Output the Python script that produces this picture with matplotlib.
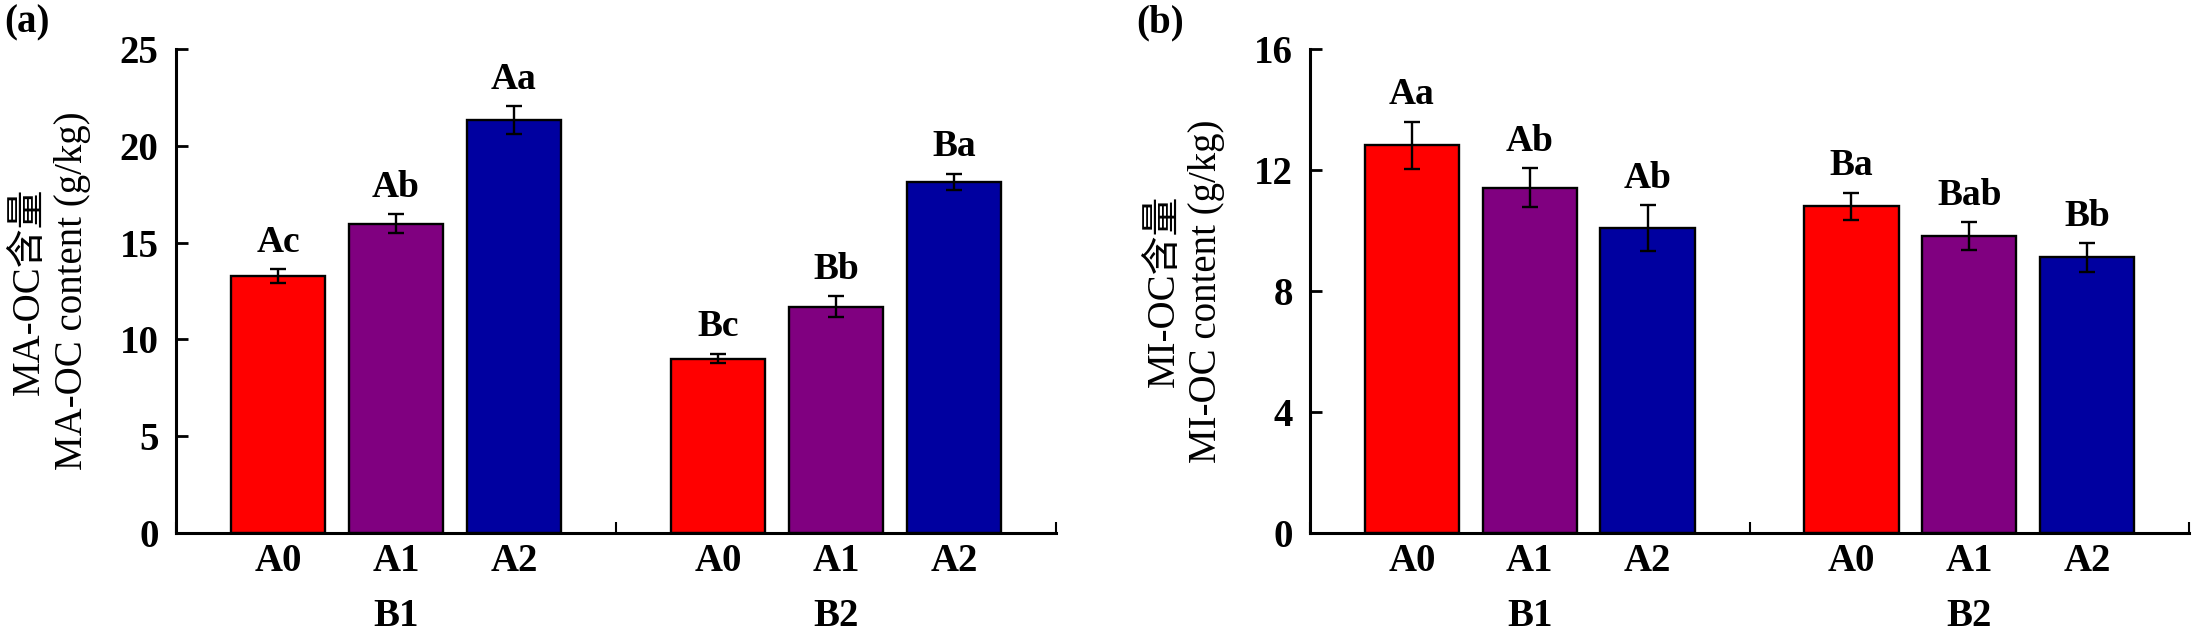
import numpy as np
import matplotlib.pyplot as plt
from matplotlib.ticker import FixedLocator

plt.rcParams['font.family'] = ['Liberation Serif', 'Noto Sans CJK SC']
plt.rcParams['mathtext.default'] = 'regular'

groups = ['B1', 'B2']
treatments = ['A0', 'A1', 'A2']
colors = ['#FF0000', '#800080', '#0000A0']

# MA-OC (panel a)
ma_mean = [[13.26, 15.98, 21.33], [9.01, 11.68, 18.14]]
ma_err = [[0.36, 0.50, 0.73], [0.25, 0.54, 0.42]]
ma_letters = [['Ac', 'Ab', 'Aa'], ['Bc', 'Bb', 'Ba']]

# MI-OC (panel b)
mi_mean = [[12.82, 11.42, 10.07], [10.80, 9.82, 9.11]]
mi_err = [[0.78, 0.63, 0.76], [0.45, 0.45, 0.48]]
mi_letters = [['Aa', 'Ab', 'Ab'], ['Ba', 'Bab', 'Bb']]

W, H = 2202, 644
group_span = 3.73
bar_off = 0.865


def draw_panel(ax, means, errs, letters, ymax, yticks, line1, line2):
    xs_all, labels_all = [], []
    for g in range(len(groups)):
        xs = g * group_span + bar_off + np.arange(len(treatments))
        ax.bar(xs, means[g], width=0.8, color=colors, edgecolor='black',
               linewidth=1.7, zorder=2)
        ax.errorbar(xs, means[g], yerr=errs[g], fmt='none', ecolor='black',
                    elinewidth=1.7, capsize=5.8, capthick=1.7, zorder=3)
        for x, m, e, lab in zip(xs, means[g], errs[g], letters[g]):
            ax.annotate(lab, (x, m + e), xytext=(0, 12.5), textcoords='offset points',
                        ha='center', va='baseline', fontsize=27, fontweight='bold')
        # group name under the middle bar
        ax.annotate(groups[g], (xs[1], 0), xycoords=('data', 'axes fraction'),
                    xytext=(0, -47), textcoords='offset points',
                    ha='center', va='top', fontsize=28, fontweight='bold')
        xs_all += list(xs)
        labels_all += treatments
    ax.set_xlim(0, 2 * group_span)
    ax.set_ylim(0, ymax)
    ax.set_xticks(xs_all)
    ax.set_xticklabels(labels_all, fontsize=28, fontweight='bold')
    ax.xaxis.set_minor_locator(FixedLocator([0, group_span, 2 * group_span]))
    ax.tick_params(axis='x', which='major', length=0, pad=7)
    ax.tick_params(axis='x', which='minor', direction='in', length=8, width=1.5)
    ax.set_yticks(yticks)
    ax.set_yticklabels([str(t) for t in yticks], fontsize=28, fontweight='bold')
    ax.tick_params(axis='y', direction='in', length=8.6, width=2, pad=12.5)
    for s in ['top', 'right']:
        ax.spines[s].set_visible(False)
    for s in ['left', 'bottom']:
        ax.spines[s].set_linewidth(2.2)
    ax.text(-0.142, 0.5, line1 + '\n' + line2, transform=ax.transAxes,
            rotation=90, ha='center', va='center', fontsize=28,
            multialignment='center', linespacing=1.2)


fig = plt.figure(figsize=(W / 100, H / 100), dpi=100)
ax1 = fig.add_axes([176 / W, 1 - 533 / H, 880 / W, 484 / H])
ax2 = fig.add_axes([1310 / W, 1 - 533 / H, 879 / W, 484 / H])

draw_panel(ax1, ma_mean, ma_err, ma_letters, 25, [0, 5, 10, 15, 20, 25],
           'MA-OC含量', 'MA-OC content (g/kg)')
draw_panel(ax2, mi_mean, mi_err, mi_letters, 16, [0, 4, 8, 12, 16],
           'MI-OC含量', 'MI-OC content (g/kg)')

fig.text(27 / W, 1 - 23 / H, '(a)', ha='center', va='center', fontsize=28, fontweight='bold')
fig.text(1160 / W, 1 - 23 / H, '(b)', ha='center', va='center', fontsize=28, fontweight='bold')

fig.savefig('out.png', dpi=100)
